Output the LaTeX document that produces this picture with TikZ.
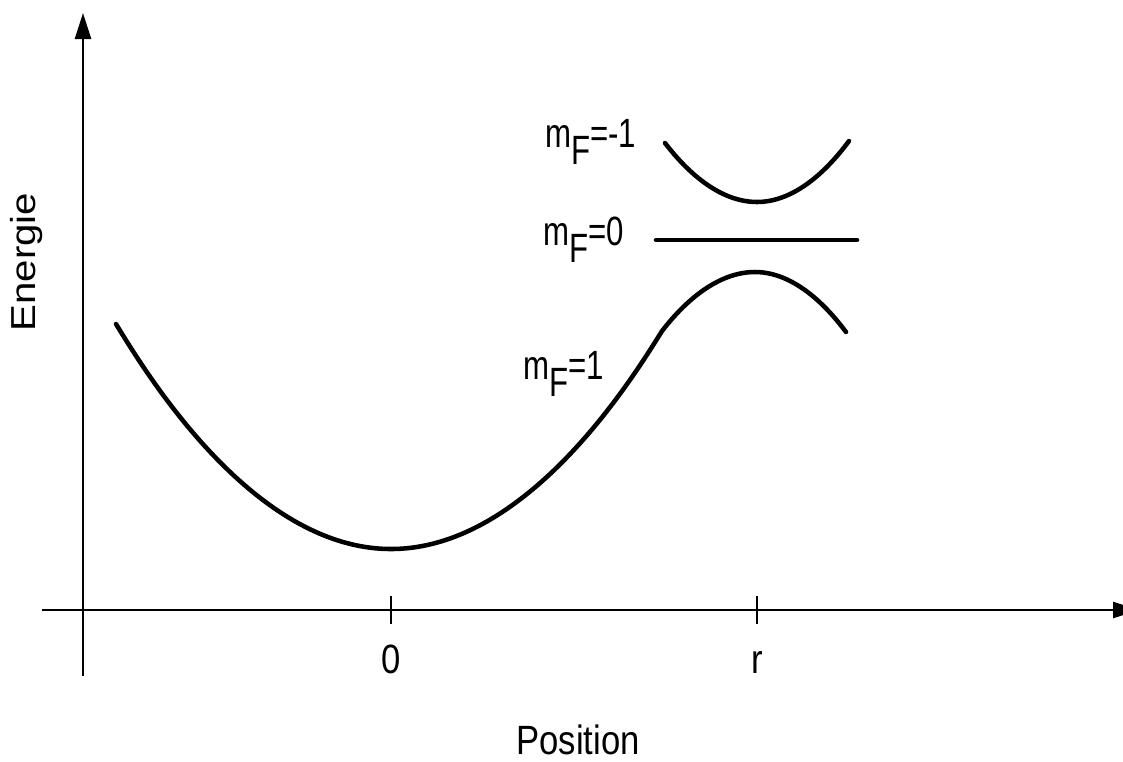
\documentclass[tikz,border=0pt]{standalone}
\usepackage{fontspec}
\setmainfont{Liberation Sans}
\usetikzlibrary{arrows.meta}
\newcommand\mFlab[1]{\scalebox{0.9}[1.18]{m\raisebox{-0.42em}{F}#1}}
\newcommand\tall[1]{\scalebox{1}[1.18]{#1}}
\begin{document}
\begin{tikzpicture}[x=0.75pt,y=-0.75pt,
  lbl/.style={font=\fontsize{26}{30}\selectfont, inner sep=0pt},
  curve/.style={line width=3.4pt, line cap=round, line join=round},
  axis/.style={line width=1.9pt},
  tick/.style={line width=2pt},
  tip/.style={-{Triangle[length=19.5pt,width=12pt]}}]
\useasboundingbox (0,0) rectangle (1123,761);
% axes
\coordinate (yb) at (83,676);
\coordinate (yt) at (83,13);
\coordinate (xl) at (42,610);
\coordinate (xr) at (1139,610);
\draw[axis,tip] (yb) -- (yt);
\draw[axis,tip] (xl) -- (xr);
% ticks
\coordinate (t0a) at (391,596); \coordinate (t0b) at (391,624);
\coordinate (tra) at (757,596); \coordinate (trb) at (757,624);
\draw[tick] (t0a) -- (t0b);
\draw[tick] (tra) -- (trb);
\node[lbl, anchor=base] (l0) at (391,673) {\tall{0}};
\node[lbl, anchor=base] (lr) at (757,673) {\tall{r}};
\node[lbl, anchor=base] (pos) at (578,754) {\tall{Position}};
\node[lbl, anchor=base, rotate=90] (en) at (35,262) {\scalebox{1.16}[1]{Energie}};
% curves
\coordinate (a1) at (116,324);
\coordinate (a2) at (391,549);
\coordinate (a3) at (662,331);
\coordinate (b2) at (755,272);
\coordinate (b3) at (846,332);
\draw[curve] (a1) parabola bend (a2) (a3) parabola bend (b2) (b3);
\coordinate (c1) at (665,143);
\coordinate (c2) at (757,202);
\coordinate (c3) at (849,141);
\draw[curve] (c1) parabola bend (c2) (c3);
\coordinate (h1) at (656,240);
\coordinate (h2) at (857,240);
\draw[curve] (h1) -- (h2);
% labels
\node[lbl, anchor=base west] (m1) at (545,147) {\mFlab{=-1}};
\node[lbl, anchor=base west] (m0) at (543,245) {\mFlab{=0}};
\node[lbl, anchor=base west] (mp) at (523,379) {\mFlab{=1}};
\end{tikzpicture}
\end{document}
